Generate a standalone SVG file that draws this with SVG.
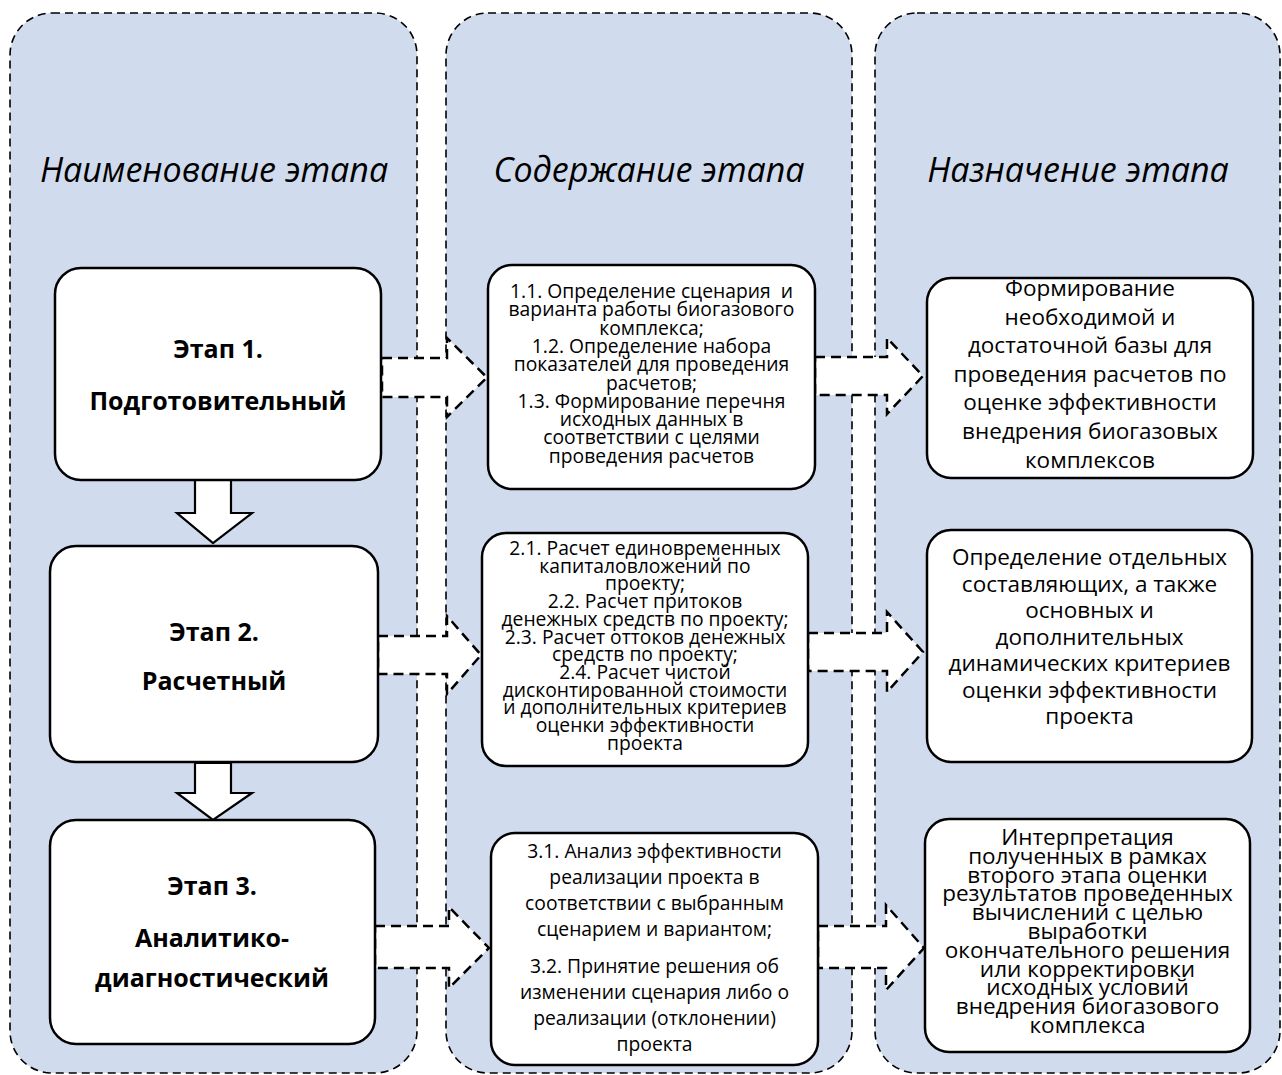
<svg xmlns="http://www.w3.org/2000/svg" width="1282" height="1075" viewBox="0 0 1282 1075">
<style>
.panel{fill:#D0DBED;stroke:#000;stroke-width:1.6;stroke-dasharray:8 5}
.box{fill:#fff;stroke:#000;stroke-width:2.5}
.darr{fill:#fff;stroke:#000;stroke-width:2.5;stroke-dasharray:10 6}
.sarr{fill:#fff;stroke:#000;stroke-width:2.2}
text{font-family:"Open Sans","Noto Sans","Liberation Sans",sans-serif;fill:#000;text-anchor:middle}
.hdr{font-size:34px;font-style:italic}
.stg{font-size:25px;font-weight:bold}
.mid{font-size:19.3px}
.rt{font-size:22.5px}
</style>
<rect width="1282" height="1075" fill="#fff"/>
<g id="panel-name"><rect class="panel" x="10" y="13" width="407" height="1060" rx="42"/><text class="hdr" x="214" y="182">Наименование этапа</text></g>
<g id="panel-content"><rect class="panel" x="446" y="13" width="406" height="1060" rx="42"/><text class="hdr" x="649" y="182">Содержание этапа</text></g>
<g id="panel-purpose"><rect class="panel" x="875" y="13" width="405" height="1060" rx="42"/><text class="hdr" x="1078" y="182">Назначение этапа</text></g>
<g id="connectors">
<polygon class="sarr" points="195,480 231,480 231,513 252,513 213,543 177,513 195,513"/>
<polygon class="sarr" points="195,763 231,763 231,793 252,793 213,820 177,793 195,793"/>
<polygon class="darr" points="382,358 447,358 447,338 487,377.5 447,417 447,397 382,397"/>
<polygon class="darr" points="815,357 887,357 887,338 923,376 887,414 887,395 815,395"/>
<polygon class="darr" points="378,636 447,636 447,616 481,655 447,694 447,674 378,674"/>
<polygon class="darr" points="808,633 887,633 887,612 923,652 887,692 887,671 808,671"/>
<polygon class="darr" points="375,926 449,926 449,907 489,948 449,988 449,968 375,968"/>
<polygon class="darr" points="818,926 886,926 886,905 924,948 886,990 886,968 818,968"/>
</g>
<g id="stage1"><rect class="box" x="55" y="268" width="326" height="212" rx="26"/>
<text class="stg" x="218" y="358">Этап 1.</text><text class="stg" x="218" y="410">Подготовительный</text></g>
<g id="stage2"><rect class="box" x="50" y="546" width="328" height="216" rx="26"/>
<text class="stg" x="214" y="641">Этап 2.</text><text class="stg" x="214" y="690">Расчетный</text></g>
<g id="stage3"><rect class="box" x="50" y="820" width="325" height="224" rx="26"/>
<text class="stg" x="212" y="895">Этап 3.</text><text class="stg" x="212" y="947">Аналитико-</text><text class="stg" x="212" y="987">диагностический</text></g>
<g id="content1"><rect class="box" x="488" y="265" width="327" height="224" rx="24"/>
<text class="mid" x="651.5"><tspan x="651.5" y="298">1.1. Определение сценария&#160; и</tspan><tspan x="651.5" y="316.3">варианта работы биогазового</tspan><tspan x="651.5" y="334.6">комплекса;</tspan><tspan x="651.5" y="352.9">1.2. Определение набора</tspan><tspan x="651.5" y="371.2">показателей для проведения</tspan><tspan x="651.5" y="389.5">расчетов;</tspan><tspan x="651.5" y="407.8">1.3. Формирование перечня</tspan><tspan x="651.5" y="426.1">исходных данных в</tspan><tspan x="651.5" y="444.4">соответствии с целями</tspan><tspan x="651.5" y="462.7">проведения расчетов</tspan></text></g>
<g id="content2"><rect class="box" x="482" y="533" width="326" height="233" rx="24"/>
<text class="mid" x="645"><tspan x="645" y="555">2.1. Расчет единовременных</tspan><tspan x="645" y="572.7">капиталовложений по</tspan><tspan x="645" y="590.4">проекту;</tspan><tspan x="645" y="608.1">2.2. Расчет притоков</tspan><tspan x="645" y="625.8">денежных средств по проекту;</tspan><tspan x="645" y="643.5">2.3. Расчет оттоков денежных</tspan><tspan x="645" y="661.2">средств по проекту;</tspan><tspan x="645" y="678.9">2.4. Расчет чистой</tspan><tspan x="645" y="696.6">дисконтированной стоимости</tspan><tspan x="645" y="714.3">и дополнительных критериев</tspan><tspan x="645" y="732">оценки эффективности</tspan><tspan x="645" y="749.7">проекта</tspan></text></g>
<g id="content3"><rect class="box" x="491" y="833" width="327" height="232" rx="24"/>
<text class="mid" x="654.5"><tspan x="654.5" y="858">3.1. Анализ эффективности</tspan><tspan x="654.5" y="884">реализации проекта в</tspan><tspan x="654.5" y="910">соответствии с выбранным</tspan><tspan x="654.5" y="936">сценарием и вариантом;</tspan><tspan x="654.5" y="973">3.2. Принятие решения об</tspan><tspan x="654.5" y="999">изменении сценария либо о</tspan><tspan x="654.5" y="1025">реализации (отклонении)</tspan><tspan x="654.5" y="1051">проекта</tspan></text></g>
<g id="purpose1"><rect class="box" x="927" y="278" width="326" height="200" rx="24"/>
<text class="rt" x="1090"><tspan x="1090" y="296">Формирование</tspan><tspan x="1090" y="324.6">необходимой и</tspan><tspan x="1090" y="353.2">достаточной базы для</tspan><tspan x="1090" y="381.8">проведения расчетов по</tspan><tspan x="1090" y="410.4">оценке эффективности</tspan><tspan x="1090" y="439">внедрения биогазовых</tspan><tspan x="1090" y="467.6">комплексов</tspan></text></g>
<g id="purpose2"><rect class="box" x="927" y="530" width="325" height="232" rx="24"/>
<text class="rt" x="1089.5"><tspan x="1089.5" y="565">Определение отдельных</tspan><tspan x="1089.5" y="591.5">составляющих, а также</tspan><tspan x="1089.5" y="618">основных и</tspan><tspan x="1089.5" y="644.5">дополнительных</tspan><tspan x="1089.5" y="671">динамических критериев</tspan><tspan x="1089.5" y="697.5">оценки эффективности</tspan><tspan x="1089.5" y="724">проекта</tspan></text></g>
<g id="purpose3"><rect class="box" x="925" y="819" width="325" height="233" rx="24"/>
<text class="rt" x="1087.5"><tspan x="1087.5" y="845">Интерпретация</tspan><tspan x="1087.5" y="863.8">полученных в рамках</tspan><tspan x="1087.5" y="882.6">второго этапа оценки</tspan><tspan x="1087.5" y="901.4">результатов проведенных</tspan><tspan x="1087.5" y="920.2">вычислений с целью</tspan><tspan x="1087.5" y="939">выработки</tspan><tspan x="1087.5" y="957.8">окончательного решения</tspan><tspan x="1087.5" y="976.6">или корректировки</tspan><tspan x="1087.5" y="995.4">исходных условий</tspan><tspan x="1087.5" y="1014.2">внедрения биогазового</tspan><tspan x="1087.5" y="1033">комплекса</tspan></text></g>
</svg>
